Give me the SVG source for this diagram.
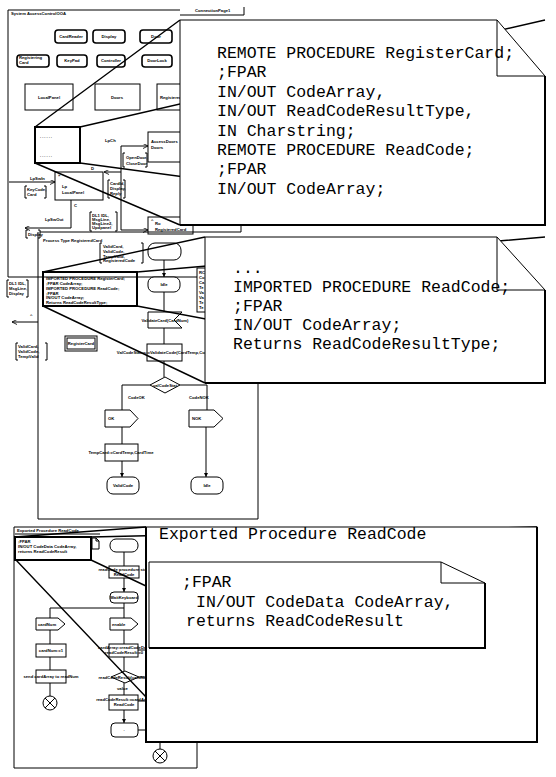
<svg xmlns="http://www.w3.org/2000/svg" width="556" height="777" viewBox="0 0 556 777">
<style>
.ln{fill:none;stroke:#000;stroke-width:1}
.bx{fill:#fff;stroke:#000;stroke-width:1}
.tk{fill:none;stroke:#000;stroke-width:2}
.db{fill:#fff;stroke:#000;stroke-width:1.6}
.mg{fill:none;stroke:#000;stroke-width:1.4}
.t{font-family:"Liberation Sans",Arial,sans-serif;font-size:4.2px;font-weight:bold;fill:#000}
.tc{text-anchor:middle}
.m{font-family:"Liberation Mono","Courier New",monospace;font-size:16.5px;fill:#000}
.note{fill:#fff;stroke:#000;stroke-width:1}
</style>
<defs>
<marker id="a" viewBox="0 0 6 6" refX="6" refY="3" markerWidth="4" markerHeight="4" markerUnits="userSpaceOnUse" orient="auto"><path d="M0,0 L6,3 L0,6 z" fill="#000"/></marker>
<marker id="o" viewBox="0 0 6 6" refX="6" refY="3" markerWidth="5" markerHeight="5" markerUnits="userSpaceOnUse" orient="auto"><path d="M0,0 L6,3 L0,6" fill="none" stroke="#000"/></marker>
</defs>
<rect width="556" height="777" fill="#fff"/>

<!-- ===== System panel ===== -->
<g id="system-frame">
<path class="ln" d="M8,10 H180 M8,10 V277 H205"/>
<text class="t" x="11" y="15">System AccessControlOOA</text>
<path class="ln" d="M180,15 H244 V7"/>
<text class="t" x="195" y="12">ConnectionPage1</text>
</g>
<g id="CardReader"><rect class="db" x="55" y="30" width="32" height="13" rx="3"/><text class="t tc" x="71" y="38">CardReader</text></g>
<g id="Display"><rect class="db" x="93" y="30" width="32" height="13" rx="3"/><text class="t tc" x="109" y="38">Display</text></g>
<g id="Door"><rect class="db" x="140" y="30" width="32" height="13" rx="3"/><text class="t tc" x="156" y="38">Door</text></g>
<g id="RegisteringCard"><rect class="db" x="17" y="55" width="32" height="12" rx="3"/><text class="t" x="19" y="59">Registering</text><text class="t" x="19" y="64">Card</text></g>
<g id="KeyPad"><rect class="db" x="57" y="55" width="30" height="12" rx="3"/><text class="t tc" x="72" y="62">KeyPad</text></g>
<g id="Controller"><rect class="db" x="97" y="55" width="28" height="12" rx="3"/><text class="t tc" x="111" y="62">Controller</text></g>
<g id="DoorLock"><rect class="db" x="142" y="55" width="30" height="12" rx="3"/><text class="t tc" x="157" y="62">DoorLock</text></g>
<g id="LocalPanelType"><rect class="bx" x="25" y="84" width="48" height="26" stroke-width="1.6"/><text class="t tc" x="49" y="99">LocalPanel</text></g>
<g id="DoorsType"><rect class="bx" x="95" y="84" width="45" height="26" stroke-width="1.6"/><text class="t tc" x="117" y="99">Doors</text></g>
<g id="RegisteredCardType"><rect class="bx" x="157" y="84" width="40" height="26" stroke-width="1.6"/><text class="t" x="160" y="99">RegisteredCard</text></g>
<g id="sys-zoom-box"><rect x="35" y="127" width="45" height="36" fill="#fff" stroke="#000" stroke-width="2"/>
<text class="t" x="40" y="138" font-size="8" letter-spacing="1">......</text>
<text class="t" x="40" y="157" font-size="8" letter-spacing="1">......</text></g>
<g id="AccessDoors"><rect class="bx" x="148" y="132" width="40" height="30"/><text class="t" x="151" y="143">AccessDoors</text><text class="t" x="151" y="149">Doors</text></g>
<g id="Lp"><rect class="bx" x="55" y="172" width="48" height="28"/><text class="t" x="62" y="188">Lp</text><text class="t" x="62" y="194">LocalPanel</text><text class="t" x="58" y="177">&#187;</text><text class="t" x="91" y="170">D</text><text class="t" x="74" y="207">C</text></g>
<g id="Ro"><rect class="bx" x="148" y="217" width="45" height="17"/><text class="t" x="151" y="222">^</text><text class="t" x="155" y="225">Ro</text><text class="t" x="155" y="231">RegisteredCard</text></g>
<g id="sys-connectors">
<path class="ln" d="M121,146 H148" marker-end="url(#o)"/>
<path class="ln" d="M121,146 V230"/>
<path class="ln" d="M121,172 H104" marker-end="url(#o)"/>
<path class="ln" d="M121,230 H148" marker-end="url(#o)"/>
<path class="ln" d="M9,182 H55" marker-end="url(#o)"/>
<path class="ln" d="M71,200 V228 H25" marker-end="url(#o)"/>
<text class="t" x="105" y="142">LpCh</text>
<text class="t" x="30" y="180">LpSwIn</text>
<text class="t" x="45" y="221">LpSwOut</text>
<path class="ln" d="M125,153 H123 V167 H125 M145,153 H147 V167 H145"/>
<text class="t" x="126" y="159">OpenDoor,</text><text class="t" x="126" y="165">CloseDoor</text>
<path class="ln" d="M110,180 H108 V198 H110 M123,180 H125 V198 H123"/>
<text class="t" x="110" y="185">CardId,</text><text class="t" x="110" y="190">Display,</text><text class="t" x="110" y="195">Reply</text>
<path class="ln" d="M27,186 H25 V198 H27 M44,186 H46 V198 H44"/>
<text class="t" x="27" y="191">KeyCode,</text><text class="t" x="27" y="196">Card</text>
<path class="ln" d="M92,212 H90 V231 H92 M115,212 H117 V231 H115"/>
<text class="t" x="92" y="217">DL1 IDL,</text><text class="t" x="92" y="221">MsgLine,</text><text class="t" x="92" y="225">MsgLine2,</text><text class="t" x="92" y="229">Updpanel</text>
<path class="ln" d="M28,230 H26 V238 H28 M38,230 H40 V238 H38"/>
<text class="t" x="28" y="236">Display</text>
<path class="ln" d="M205,232 H241 V225"/>
</g>

<!-- ===== Process panel ===== -->
<g id="process-frame">
<path class="ln" d="M40,232 H205 M38,232 V519 H258 V383"/>
<text class="t" x="43" y="242" font-size="5">Process Type RegisteredCard</text>
</g>
<g id="proc-signals">
<path class="ln" d="M102,243 H100 V263 H102 M141,243 H143 V263 H141"/>
<text class="t" x="103" y="248">ValidCard,</text><text class="t" x="103" y="253">ValidCode,</text><text class="t" x="103" y="258">TempValid,</text><text class="t" x="103" y="262">RegisteredCode</text>
</g>
<g id="proc-start"><rect class="bx" x="148" y="243" width="33" height="17" rx="7"/></g>
<g id="proc-idle"><rect class="bx" x="148" y="277" width="32" height="15" rx="6"/><text class="t tc" x="164" y="286">Idle</text></g>
<g id="proc-input"><path class="bx" d="M148,312 H182 L174,320 L182,328 H148 Z"/><text class="t tc" x="165" y="322">ValidateCard(CardNum)</text></g>
<g id="proc-task1"><rect class="bx" x="147" y="344" width="35" height="17"/><text class="t tc" x="164" y="354" font-size="3.9">ValCodeStatus:=ValidateCode(CardTemp,Code)</text></g>
<g id="proc-dec"><path class="bx" d="M150,385 L165,377 L180,385 L165,393 Z"/><text class="t tc" x="165" y="387">valCodeStat</text></g>
<g id="proc-ok"><path class="bx" d="M105,410 H130 L138,418.5 L130,427 H105 Z"/><text class="t" x="108" y="420">OK</text></g>
<g id="proc-nok"><path class="bx" d="M189,410 H214 L223,418.5 L214,427 H189 Z"/><text class="t" x="192" y="420">NOK</text></g>
<g id="proc-task2"><rect class="bx" x="105" y="444" width="33" height="17"/><text class="t tc" x="121" y="454">TempCard:=CardTemp,CardTime</text></g>
<g id="proc-validcode"><rect class="bx" x="107" y="477" width="32" height="17" rx="6"/><text class="t tc" x="123" y="487">ValidCode</text></g>
<g id="proc-idle2"><rect class="bx" x="191" y="477" width="32" height="17" rx="6"/><text class="t tc" x="207" y="487">Idle</text></g>
<g id="proc-regcard"><rect class="bx" x="65" y="336" width="32" height="15" stroke-width="1.4"/><rect class="ln" x="67" y="338" width="28" height="11" stroke-width="0.5"/><text class="t tc" x="81" y="345">RegisterCard</text></g>
<g id="proc-textbox"><rect class="bx" x="197" y="268" width="20" height="44" stroke-width="1.4"/>
<text class="t" x="199" y="274">RC</text><text class="t" x="199" y="279">Co</text><text class="t" x="199" y="284">Ca</text><text class="t" x="199" y="289">Te</text><text class="t" x="199" y="294">Va</text><text class="t" x="199" y="299">Va</text><text class="t" x="199" y="304">Te</text><text class="t" x="199" y="309">Te</text></g>
<g id="proc-left">
<path class="ln" d="M9,280 H7 V297 H9 M26,280 H28 V297 H26"/>
<text class="t" x="9" y="285">DL1 IDL,</text><text class="t" x="9" y="290">MsgLine,</text><text class="t" x="9" y="295">Display</text>
<path class="ln" d="M38,322 H12" marker-end="url(#o)"/>
<text class="t" x="30" y="317">^</text>
<path class="ln" d="M18,343 H16 V360 H18 M45,343 H47 V360 H45"/>
<text class="t" x="18" y="348">ValidCard,</text><text class="t" x="18" y="353">ValidCode,</text><text class="t" x="18" y="358">TempValid</text>
</g>
<g id="proc-connectors">
<path class="ln" d="M164,260 V277" marker-end="url(#a)"/>
<path class="ln" d="M164,292 V312"/>
<path class="ln" d="M164,328 V344"/>
<path class="ln" d="M164,361 V377"/>
<path class="ln" d="M150,385 H122 V410 M180,385 H207 V410"/>
<text class="t" x="128" y="399">CodeOK</text><text class="t" x="189" y="399">CodeNOK</text>
<path class="ln" d="M122,427 V444"/>
<path class="ln" d="M122,461 V477" marker-end="url(#a)"/>
<path class="ln" d="M206,427 V477" marker-end="url(#a)"/>
</g>
<g id="proc-zoom-box"><rect x="43" y="272" width="94" height="34" fill="none" stroke="#000" stroke-width="2"/>
<text class="t" x="46" y="280">IMPORTED PROCEDURE RegisterCard;</text>
<text class="t" x="46" y="285">;FPAR CodeArray;</text>
<text class="t" x="46" y="290">IMPORTED PROCEDURE ReadCode;</text>
<text class="t" x="46" y="295">;FPAR</text>
<text class="t" x="46" y="299">IN/OUT CodeArray;</text>
<text class="t" x="46" y="304">Returns ReadCodeResultType;</text></g>

<!-- ===== Procedure panel ===== -->
<g id="proc2-frame">
<path class="ln" d="M146,527 H14 V768 H197 V742"/>
<text class="t" x="17" y="532">Exported Procedure ReadCode</text>
<path class="ln" d="M15,534 H100"/>
</g>
<g id="p2-zoom-box"><rect x="15" y="537" width="76" height="23" fill="#fff" stroke="#000" stroke-width="2"/>
<text class="t" x="18" y="543">;FPAR</text><text class="t" x="18" y="548">IN/OUT CodeData CodeArray,</text><text class="t" x="18" y="553">returns ReadCodeResult</text></g>
<g id="p2-textsym"><path class="ln" d="M92,538 H96 L99,541 V549 H92 Z M96,538 V541 H99"/></g>
<g id="p2-start"><rect class="bx" x="110" y="539" width="28" height="13" rx="6"/></g>
<g id="p2-task1"><rect class="bx" x="109" y="566" width="30" height="12"/><text class="t tc" x="124" y="571">readCode procedure start</text><text class="t tc" x="124" y="576">ReadCode</text></g>
<g id="p2-state"><rect class="bx" x="110" y="592" width="28" height="11" rx="4"/><text class="t tc" x="124" y="599">WaitKeyboard</text></g>
<g id="p2-in1"><path class="bx" d="M36,618 H58 L65,624 L58,630 H36 Z"/><text class="t" x="38" y="626">cardNum</text></g>
<g id="p2-in2"><path class="bx" d="M110,618 H131 L138,624 L131,630 H110 Z"/><text class="t" x="112" y="626">enable</text></g>
<g id="p2-task2"><rect class="bx" x="36" y="644" width="30" height="13"/><text class="t tc" x="51" y="652">cardNum:=1</text></g>
<g id="p2-task3"><rect class="bx" x="36" y="670" width="30" height="13"/><text class="t tc" x="51" y="678">send cardArray to readNum</text></g>
<g id="p2-end1"><circle class="bx" cx="50" cy="703" r="7"/><path class="ln" d="M45,698 L55,708 M55,698 L45,708"/></g>
<g id="p2-task4"><rect class="bx" x="109" y="644" width="29" height="13"/><text class="t tc" x="124" y="649">cardArray:=readCodeData</text><text class="t tc" x="124" y="654">readCodeResult:=0</text></g>
<g id="p2-dec"><path class="bx" d="M111,677 L125,671 L139,677 L125,683 Z"/><text class="t tc" x="125" y="679">readCodeResult(cardNum)</text></g>
<g id="p2-task5"><rect class="bx" x="109" y="695" width="29" height="15"/><text class="t tc" x="124" y="701">readCodeResult:=cardArray</text><text class="t tc" x="124" y="706">ReadCode</text></g>
<g id="p2-return"><rect class="bx" x="111" y="723" width="27" height="14" rx="4"/><text class="t tc" x="124" y="731">.</text></g>
<g id="p2-end2"><circle class="bx" cx="160" cy="756" r="7"/><path class="ln" d="M155,751 L165,761 M165,751 L155,761 M160,742 V749"/></g>
<g id="p2-connectors">
<path class="ln" d="M124,552 V566"/>
<path class="ln" d="M124,578 V592" marker-end="url(#a)"/>
<path class="ln" d="M124,603 V618 M124,608 H50 V618"/>
<path class="ln" d="M50,630 V644 M50,657 V670 M50,683 V696"/>
<path class="ln" d="M124,630 V644 M124,657 V671 M124,683 V695"/>
<path class="ln" d="M124,710 V723" marker-end="url(#a)"/>
<path class="ln" d="M138,650 H146 M139,677 H146 M138,701 H146 M138,730 H146"/>
<text class="t" x="117" y="690">value</text>
</g>

<!-- ===== Magnification lines ===== -->
<g id="zoom-lines">
<path class="mg" d="M35,127 L180,20 M80,127 L545,20 M35,163 L180,225 M80,163 L545,225"/>
<path class="mg" d="M43,272 L205,237 M137,272 L545,237 M43,306 L205,383 M137,306 L545,383"/>
<path class="mg" d="M15,537 L146,527 M91,537 L537,527 M16,560 L146,697 M91,560 L146,586"/>
</g>

<!-- ===== Notes ===== -->
<g id="note1">
<path class="note" d="M180,20 H497 L545,76 V225 H180 Z"/>
<path class="ln" d="M497,20 V76 H545"/>
<path class="tk" d="M545,76 V225 H180"/>
<text class="m" x="217" y="58">REMOTE PROCEDURE RegisterCard;</text>
<text class="m" x="217" y="77.4">;FPAR</text>
<text class="m" x="217" y="96.8">IN/OUT CodeArray,</text>
<text class="m" x="217" y="116.2">IN/OUT ReadCodeResultType,</text>
<text class="m" x="217" y="135.6">IN Charstring;</text>
<text class="m" x="217" y="155">REMOTE PROCEDURE ReadCode;</text>
<text class="m" x="217" y="174.4">;FPAR</text>
<text class="m" x="217" y="193.8">IN/OUT CodeArray;</text>
</g>
<g id="note2">
<path class="note" d="M205,237 H497 L545,290 V383 H205 Z"/>
<path class="ln" d="M497,237 V290 H545"/>
<path class="tk" d="M545,290 V383 H205"/>
<text class="m" x="233" y="273">...</text>
<text class="m" x="233" y="292">IMPORTED PROCEDURE ReadCode;</text>
<text class="m" x="233" y="311">;FPAR</text>
<text class="m" x="233" y="330">IN/OUT CodeArray;</text>
<text class="m" x="233" y="349">Returns ReadCodeResultType;</text>
</g>
<g id="note3">
<rect class="note" x="146" y="527" width="391" height="215"/>
<path class="tk" d="M537,527 V742 H146 V527"/>
<text class="m" x="159" y="539">Exported Procedure ReadCode</text>
</g>
<g id="note4">
<path class="note" d="M149,562 H441 L485,583 V648 H149 Z"/>
<path class="ln" d="M441,562 V583 H485"/>
<path class="tk" d="M485,583 V648 H149"/>
<text class="m" x="182" y="587">;FPAR</text>
<text class="m" x="196" y="607">IN/OUT CodeData CodeArray,</text>
<text class="m" x="186" y="625.5">returns ReadCodeResult</text>
</g>
</svg>
